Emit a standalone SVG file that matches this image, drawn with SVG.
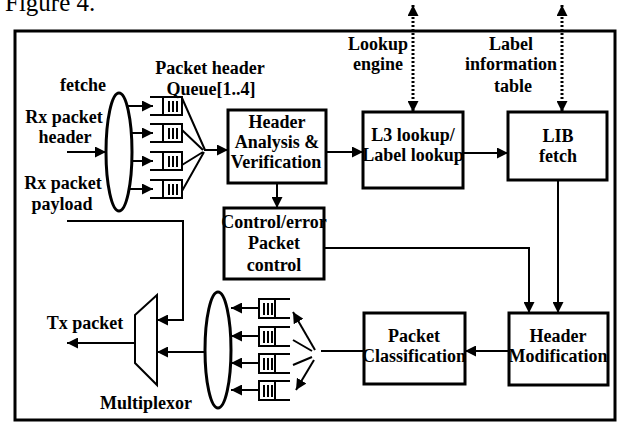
<svg xmlns="http://www.w3.org/2000/svg" width="621" height="423" viewBox="0 0 621 423">
<defs>
<marker id="ah" viewBox="0 0 10 10" refX="10" refY="5" markerWidth="11" markerHeight="11" orient="auto-start-reverse" markerUnits="userSpaceOnUse">
<path d="M0,0 L10,5 L0,10 z" fill="#000"/>
</marker>
<g id="qR">
<path d="M0,0 H32 V18 H0 M13,0 V18" fill="none" stroke="#000" stroke-width="2"/>
<path d="M19,4 V15 M23,4 V15 M27,4 V15" stroke="#000" stroke-width="2"/>
</g>
<g id="qL">
<path d="M31,0 H0 V19 H31 M16,0 V19" fill="none" stroke="#000" stroke-width="2"/>
<path d="M5,4 V16 M9,4 V16 M13,4 V16" stroke="#000" stroke-width="2"/>
</g>
</defs>
<style>
text{font-family:"Liberation Serif","Times New Roman",serif;font-weight:bold;font-size:18px;text-anchor:middle;fill:#000}
.box{fill:none;stroke:#000;stroke-width:3}
.ln{fill:none;stroke:#000;stroke-width:2}
.ar{fill:none;stroke:#000;stroke-width:2;marker-end:url(#ah)}
.dot{fill:none;stroke:#000;stroke-width:3;stroke-dasharray:2,2;marker-start:url(#ah);marker-end:url(#ah)}
</style>
<rect width="621" height="423" fill="#fff"/>
<text x="5" y="11" style="font-weight:normal;font-size:25px;text-anchor:start">Figure 4.</text>
<rect x="15" y="31" width="600" height="389" class="box"/>

<g id="labels">
<text x="83" y="91">fetche</text>
<text x="64" y="123">Rx packet</text>
<text x="65" y="143">header</text>
<text x="63" y="189">Rx packet</text>
<text x="62" y="210">payload</text>
<text x="210" y="74">Packet header</text>
<text x="211" y="95">Queue[1..4]</text>
<text x="378" y="50">Lookup</text>
<text x="378" y="70">engine</text>
<text x="511" y="50">Label</text>
<text x="511" y="70">information</text>
<text x="513" y="92">table</text>
<text x="85" y="329">Tx packet</text>
<text x="146" y="409">Multiplexor</text>
</g>

<g id="fetch">
<ellipse cx="119" cy="152" rx="13" ry="59" class="box"/>
</g>
<g id="queuesIn">
<use href="#qR" x="150" y="97"/>
<use href="#qR" x="150" y="124"/>
<use href="#qR" x="150" y="152"/>
<use href="#qR" x="150" y="180"/>
</g>
<g id="header-analysis">
<text x="277" y="128">Header</text>
<text x="277" y="148">Analysis &amp;</text>
<text x="276" y="168">Verification</text>
<rect x="228" y="110" width="98" height="73" class="box"/>
</g>
<g id="control">
<text x="274" y="228">Control/error</text>
<text x="274" y="249">Packet</text>
<text x="274" y="271">control</text>
<rect x="224" y="208" width="100" height="71" class="box"/>
</g>
<g id="l3">
<text x="413" y="141">L3 lookup/</text>
<text x="413" y="161">Label lookup</text>
<rect x="363" y="112" width="100" height="76" class="box"/>
</g>
<g id="lib">
<text x="558" y="142">LIB</text>
<text x="558" y="162">fetch</text>
<rect x="508" y="112" width="99" height="68" class="box"/>
</g>
<g id="header-mod">
<text x="558" y="342">Header</text>
<text x="558" y="362">Modification</text>
<rect x="509" y="313" width="99" height="72" class="box"/>
</g>
<g id="packet-class">
<text x="414" y="342">Packet</text>
<text x="414" y="362">Classification</text>
<rect x="364" y="313" width="101" height="71" class="box"/>
</g>
<g id="queuesOut">
<use href="#qL" x="259" y="299"/>
<use href="#qL" x="259" y="327"/>
<use href="#qL" x="259" y="354"/>
<use href="#qL" x="259" y="381"/>
</g>
<g id="mux-ellipse">
<ellipse cx="218" cy="350" rx="13" ry="58" class="box"/>
</g>
<g id="mux">
<polygon points="135,315 157,295 157,385 135,363" fill="none" stroke="#000" stroke-width="2"/>
</g>

<g id="connectors">
<path d="M67,152 H106" class="ar"/>
<path d="M128,106 H153" class="ar"/>
<path d="M131,133 H153" class="ar"/>
<path d="M131,161 H153" class="ar"/>
<path d="M128,189 H153" class="ar"/>
<path d="M182,98 L205,150 M182,130 L203,150 M182,165 L203,152 M182,191 L204,152" class="ln"/>
<path d="M204,150 H228" class="ar"/>
<path d="M326,152 H363" class="ar"/>
<path d="M463,153 H508" class="ar"/>
<path d="M277,183 V208" class="ar"/>
<path d="M413,5 V112" class="dot"/>
<path d="M562,5 V112" class="dot"/>
<path d="M558,180 V313" class="ar"/>
<path d="M324,248 H529 V313" class="ar"/>
<path d="M509,351 H465" class="ar"/>
<path d="M364,351 H321" class="ln"/>
<path d="M315,350 L293,312" class="ar"/>
<path d="M312,351 L293,340 M312,357 L293,365" class="ln"/>
<path d="M314,360 L296,390" class="ar"/>
<path d="M259,308 H231" class="ar"/>
<path d="M259,336 H231" class="ar"/>
<path d="M259,363 H231" class="ar"/>
<path d="M259,390 H231" class="ar"/>
<path d="M205,352 H157" class="ar"/>
<path d="M67,221 H183 V320 H157" class="ar"/>
<path d="M135,343 H67" class="ar"/>
</g>
</svg>
